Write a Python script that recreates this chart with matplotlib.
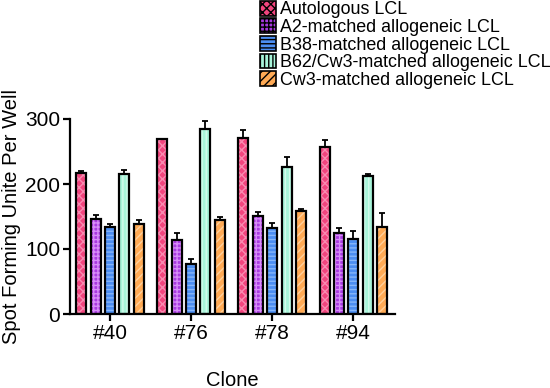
import matplotlib
matplotlib.use("Agg")
import matplotlib.pyplot as plt
import numpy as np

plt.rcParams['font.family'] = ['Liberation Sans', 'DejaVu Sans']

clones = ["#40", "#76", "#78", "#94"]
series = ["Autologous LCL", "A2-matched allogeneic LCL", "B38-matched allogeneic LCL",
          "B62/Cw3-matched allogeneic LCL", "Cw3-matched allogeneic LCL"]
autologous = [217, 269, 271, 257]
a2 = [146, 114, 151, 125]
b38 = [134, 77, 133, 115]
b62cw3 = [216, 285, 226, 212]
cw3 = [139, 144, 158, 134]
autologous_err = [3, 1, 12, 10]
a2_err = [7, 11, 6, 7]
b38_err = [5, 7, 7, 13]
b62cw3_err = [5, 12, 15, 4]
cw3_err = [6, 5, 4, 21]

values = [autologous, a2, b38, b62cw3, cw3]
errors = [autologous_err, a2_err, b38_err, b62cw3_err, cw3_err]
faces = ["#F2457E", "#A83AE0", "#4C8EF2", "#A8F5DA", "#FFAA55"]
hatchcols = ["#F98AB0", "#D78CF8", "#86B6FA", "#D4FBEC", "#FFD09A"]
hatches = ["xxxx", "++++", "----", "||||", "////"]

fig = plt.figure(figsize=(5.5, 3.88), dpi=100)
ax = fig.add_axes([70/550, 1-314/388, 325/550, 195/388])

x = np.arange(len(clones))
width = 0.123
step = 0.177
handles = []
for i in range(5):
    pos = x + (i - 2) * step
    ax.bar(pos, values[i], width, color=faces[i], hatch=hatches[i],
           edgecolor=hatchcols[i], linewidth=0, zorder=2)
    ax.errorbar(pos, values[i], yerr=[np.zeros(4), errors[i]], fmt='none',
                ecolor='black', elinewidth=1.3, capsize=2.5, capthick=1.3, zorder=3)
    ax.bar(pos, values[i], width, fill=False, edgecolor='black', linewidth=1.6, zorder=4)
    h = plt.Rectangle((0, 0), 1, 1, facecolor=faces[i], hatch=hatches[i],
                      edgecolor='black', linewidth=1.2)
    handles.append(h)

ax.set_xlim(-0.494, 3.515)
ax.set_ylim(0, 300)
ax.set_yticks([0, 100, 200, 300])
ax.set_xticks(x)
ax.set_xticklabels(clones)
ax.spines['top'].set_visible(False)
ax.spines['right'].set_visible(False)
for s in ['left', 'bottom']:
    ax.spines[s].set_linewidth(1.6)
ax.tick_params(axis='both', labelsize=15, width=1.6, length=5, color='black', pad=2)
ax.set_ylabel("Spot Forming Unite Per Well", fontsize=14.5, labelpad=3)
ax.set_xlabel("Clone", fontsize=14.5, labelpad=20)

fig.legend(handles, series, loc='upper left', bbox_to_anchor=(260/550, 0.998),
           frameon=False, fontsize=12.9, handlelength=0.9, handleheight=0.9,
           handletextpad=0.2, labelspacing=0.0, borderaxespad=0, borderpad=0.0)

fig.savefig("out.png", dpi=100)
